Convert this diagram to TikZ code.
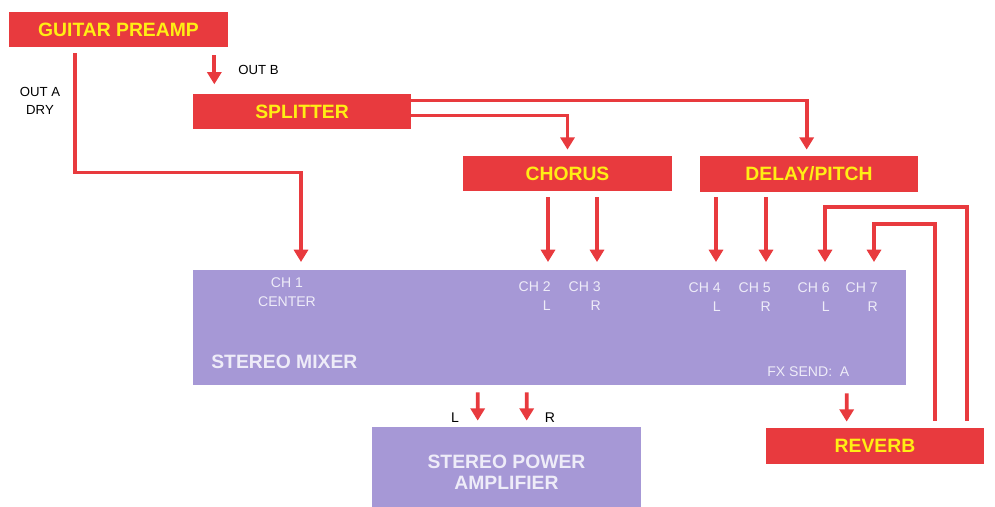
\documentclass[tikz,border=0pt]{standalone}
\usepackage{fontspec}
\setmainfont{Liberation Sans}
\usetikzlibrary{arrows.meta,calc}
\definecolor{boxred}{RGB}{232,58,62}
\definecolor{capyellow}{RGB}{255,238,20}
\definecolor{mixpurple}{RGB}{166,152,214}
\definecolor{mixtext}{RGB}{238,236,248}
\begin{document}
\begin{tikzpicture}[x=0.02cm,y=-0.02cm,
  unit/.style={fill=boxred,text=capyellow,minimum height=0.7cm,
    inner sep=0pt,font=\fontsize{11}{13}\selectfont\bfseries},
  rack/.style={fill=mixpurple,inner sep=0pt},
  chtag/.style={text=mixtext,align=right,inner sep=0pt,
    font=\fontsize{8}{11}\selectfont},
  tag/.style={inner sep=0pt,font=\fontsize{7.5}{10}\selectfont},
  sig/.style={draw=boxred,line width=2.1pt,
    -{Triangle[length=7pt,width=8pt]}},
  wire/.style={draw=boxred,line width=2.1pt}]
\clip (0,0) rectangle (995,507);
% units
\node[unit,minimum width=4.38cm] (preamp) at (118.5,29.5) {GUITAR PREAMP};
\node[unit,minimum width=4.36cm] (splitter) at (302,111.5) {SPLITTER};
\node[unit,minimum width=4.18cm] (chorus) at (567.5,173.5) {CHORUS};
\node[unit,minimum width=4.36cm,minimum height=0.72cm] (delay) at (809,174) {DELAY/PITCH};
\node[unit,minimum width=4.36cm,minimum height=0.72cm] (reverb) at (875,446) {REVERB};
\node[rack,minimum width=14.26cm,minimum height=2.3cm] (mixer) at (549.5,327.5) {};
\node[rack,minimum width=5.38cm,minimum height=1.8cm,text=mixtext,align=center,
  font=\fontsize{11}{12}\selectfont\bfseries] (amp) at (506.5,472)
  {STEREO POWER\\AMPLIFIER};
% mixer labels
\node[chtag,align=center,anchor=north] (ch1) at (287,277) {CH 1\\CENTER};
\node[chtag,anchor=north east] (ch2) at (551,281) {CH 2\\L};
\node[chtag,anchor=north east] (ch3) at (601,281) {CH 3\\R};
\node[chtag,anchor=north east] (ch4) at (721,282) {CH 4\\L};
\node[chtag,anchor=north east] (ch5) at (771,282) {CH 5\\R};
\node[chtag,anchor=north east] (ch6) at (830,282) {CH 6\\L};
\node[chtag,anchor=north east] (ch7) at (878,282) {CH 7\\R};
\node[text=mixtext,anchor=west,inner sep=0pt,
  font=\fontsize{11}{13}\selectfont\bfseries] (mixname) at (211,362) {STEREO MIXER};
\node[chtag,anchor=west] (fxsend) at (767,372) {FX SEND:\ \ A};
% free labels
\node[tag,align=center] (outa) at (40,101) {OUT A\\DRY};
\node[tag,anchor=west] (outb) at (238,70) {OUT B};
\node[tag,font=\fontsize{8}{10}\selectfont] (ampl) at (455,418) {L};
\node[tag,font=\fontsize{8}{10}\selectfont] (ampr) at (550,418) {R};
% inputs on the mixer
\foreach \x/\n in {301/1,548/2,597/3,716/4,766/5,825/6,874/7}
  \coordinate (in\n) at (\x,262);
% signal paths
\draw[sig] ($(preamp.south west)+(66,6)$) -- ++(0,119) -| (in1);
\draw[sig] ($(preamp.south east)+(-14,8)$) -- ++(0,29);
\draw[sig] ($(splitter.north east)+(0,7)$) -| ($(delay.north west)+(107,-6)$);
\draw[sig] ($(splitter.north east)+(0,22)$) -| ($(chorus.north)+(0,-6)$);
\draw[sig] (chorus.south -| in2) ++(0,6) -- (in2);
\draw[sig] (chorus.south -| in3) ++(0,6) -- (in3);
\draw[sig] (delay.south -| in4) ++(0,5) -- (in4);
\draw[sig] (delay.south -| in5) ++(0,5) -- (in5);
\draw[sig] ($(reverb.north east)+(-17,-7)$) |- (825,207) -- (in6);
\draw[sig] ($(reverb.north east)+(-49,-7)$) |- (874,224) -- (in7);
\draw[sig] ($(mixer.south west)+(654,8)$) -- ($(reverb.north west)+(81,-6)$);
\draw[sig] ($(mixer.south west)+(285,7)$) -- ($(amp.north west)+(106,-6)$);
\draw[sig] ($(mixer.south west)+(334,7)$) -- ($(amp.north west)+(155,-6)$);
\end{tikzpicture}
\end{document}
